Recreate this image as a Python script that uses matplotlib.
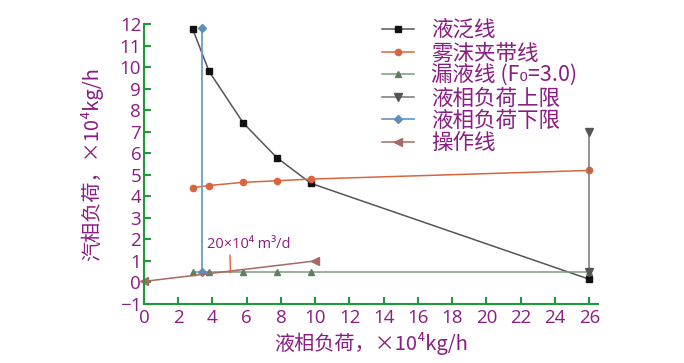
import matplotlib
matplotlib.use("Agg")
import matplotlib.pyplot as plt

plt.rcParams['font.family'] = ['Noto Sans CJK SC', 'DejaVu Sans']

# Data
flood_x = [2.85, 3.8, 5.8, 7.75, 9.75, 26.0]
flood_y = [11.75, 9.8, 7.4, 5.8, 4.6, 0.15]
entrain_x = [2.85, 3.8, 5.8, 7.75, 9.75, 26.0]
entrain_y = [4.4, 4.5, 4.65, 4.72, 4.8, 5.2]
weep_x = [2.85, 3.8, 5.8, 7.75, 9.75, 26.0]
weep_y = [0.5, 0.5, 0.5, 0.5, 0.5, 0.5]
upper_x = [26.0, 26.0]
upper_y = [7.0, 0.5]
lower_x = [3.38, 3.38]
lower_y = [11.8, 0.5]
oper_x = [0.0, 10.0]
oper_y = [0.05, 1.0]
labels = ["液泛线", "雾沫夹带线", "漏液线 (F₀=3.0)", "液相负荷上限", "液相负荷下限", "操作线"]
xticks = list(range(0, 27, 2))
yticks = list(range(-1, 13))

purple = '#8a1d83'
green = '#1e9a3c'

fig = plt.figure(figsize=(6.84, 3.63), dpi=100)
ax = fig.add_axes([0.2105, 0.1625, 0.874 - 0.2105, 0.934 - 0.1625])

ax.plot(flood_x, flood_y, color='#555555', lw=1.1, marker='s', ms=4.5,
        mfc='#111111', mec='#111111', label=labels[0])
ax.plot(entrain_x, entrain_y, color='#d9643f', lw=1.1, marker='o', ms=4.5,
        mfc='#d9643f', mec='#d9643f', label=labels[1])
ax.plot(weep_x, weep_y, color='#7d9a7d', lw=1.1, marker='^', ms=5,
        mfc='#5f7f5f', mec='#5f7f5f', label=labels[2])
ax.plot(upper_x, upper_y, color='#777777', lw=1.1, marker='v', ms=5.5,
        mfc='#555555', mec='#555555', label=labels[3])
ax.plot(lower_x, lower_y, color='#6f9cc0', lw=1.3, marker='D', ms=4.5,
        mfc='#5d8fb8', mec='#5d8fb8', label=labels[4])
ax.plot(oper_x, oper_y, color='#a56a62', lw=1.1, marker='<', ms=5.5,
        mfc='#a56a62', mec='#a56a62', label=labels[5], clip_on=False)

ax.annotate("20×10⁴ m³/d", xy=(5.05, 0.45), xytext=(3.7, 1.75),
            color=purple, fontsize=10.5, va='center', ha='left',
            family=['Open Sans', 'DejaVu Sans'],
            arrowprops=dict(arrowstyle='-', color='#f05a3a', lw=1.0,
                            shrinkA=0, shrinkB=0, relpos=(0.27, 0.0)))

ax.set_xlim(0, 26.5)
ax.set_ylim(-1, 12)
ax.set_xticks(xticks)
ax.set_yticks(yticks)
for s in ['top', 'right']:
    ax.spines[s].set_visible(False)
for s in ['left', 'bottom']:
    ax.spines[s].set_color(green)
    ax.spines[s].set_linewidth(1.5)
ax.tick_params(axis='both', direction='in', color=green, width=1.5, length=5,
               labelcolor=purple, labelsize=13.5)
ax.tick_params(axis='y', pad=2)
for t in ax.get_xticklabels() + ax.get_yticklabels():
    t.set_family(['Open Sans', 'DejaVu Sans'])

ax.set_xlabel("液相负荷，×10⁴kg/h", color=purple, fontsize=14.5, labelpad=4)
ax.set_ylabel("汽相负荷，×10⁴kg/h", color=purple, fontsize=14.5, labelpad=12)

leg = ax.legend(loc='upper left', bbox_to_anchor=(0.505, 1.045), frameon=False,
                fontsize=15.5, handlelength=1.5, labelspacing=0.02,
                handletextpad=0.8, borderaxespad=0)
for t in leg.get_texts():
    t.set_color(purple)

fig.savefig("out.png", dpi=100)
